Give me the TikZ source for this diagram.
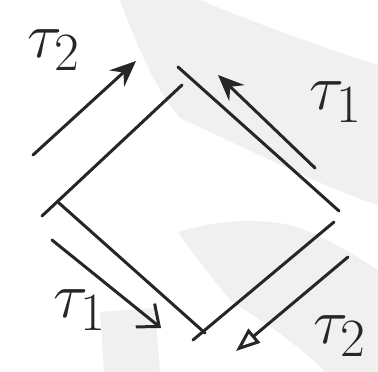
\documentclass[tikz,border=0pt]{standalone}
\usetikzlibrary{arrows.meta}
\begin{document}
\begin{tikzpicture}[x=1pt,y=-1pt,
  side/.style={line width=3pt,line cap=round,black!85},
  arr/.style={line width=3pt,line cap=round,black!85},
  headfill/.style={-{Stealth[length=26pt,width=22pt,inset=9pt]}},
  headopen/.style={-{Triangle[open,length=24pt,width=18pt,line width=3pt]}},
  headbarb/.style={-{Straight Barb[length=18pt,width=30pt,line width=3pt]}},
  lbl/.style={font=\Huge,scale=2.6,black!85,inner sep=0pt},
  bg/.style={fill=gray!12,draw=none}]
\useasboundingbox (0,0) rectangle (378,372);
% faint background tones of the scan
\fill[bg] (120,0) -- (200,0) .. controls (260,25) and (330,50) .. (378,65) -- (378,205)
  .. controls (330,190) and (260,155) .. (180,118) .. controls (155,90) and (135,40) .. (120,0) -- cycle;
\fill[bg] (178,232) .. controls (210,222) and (260,215) .. (300,228) .. controls (330,240) and (355,255) .. (378,270)
  -- (378,372) -- (325,372) .. controls (300,345) and (260,320) .. (230,300) .. controls (210,275) and (190,250) .. (178,232) -- cycle;
\fill[bg] (100,312) -- (155,308) -- (160,372) -- (104,372) -- cycle;
% diamond corners
\coordinate (a1) at (42,216); \coordinate (a2) at (182,85);
\coordinate (b1) at (178,67); \coordinate (b2) at (339,211);
\coordinate (c1) at (334,222); \coordinate (c2) at (193,340);
\coordinate (d1) at (59,203); \coordinate (d2) at (205,333);
\draw[side] (a1) -- (a2);
\draw[side] (b1) -- (b2);
\draw[side] (c1) -- (c2);
\draw[side] (d1) -- (d2);
% arrows
\coordinate (t2s) at (33,155); \coordinate (t2e) at (136,61);
\coordinate (t1s) at (315,168); \coordinate (t1e) at (218,75);
\coordinate (u1s) at (52,240); \coordinate (u1e) at (161,328);
\coordinate (u2s) at (348,257); \coordinate (u2e) at (236,351);
\draw[arr,headfill] (t2s) -- (t2e);
\draw[arr,headfill] (t1s) -- (t1e);
\draw[arr,headbarb] (u1s) -- (u1e);
\draw[arr,headopen] (u2s) -- (u2e);
% labels
\node[lbl] (l1) at (54,50) {$\tau_2$};
\node[lbl] (l2) at (336,102) {$\tau_1$};
\node[lbl] (l3) at (80,310) {$\tau_1$};
\node[lbl] (l4) at (340,336) {$\tau_2$};
\end{tikzpicture}
\end{document}
